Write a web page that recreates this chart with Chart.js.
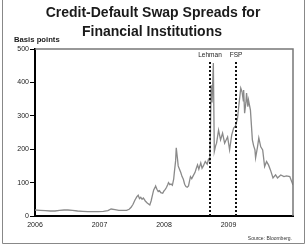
<!DOCTYPE html>
<html>
<head>
<meta charset="utf-8">
<script src="https://cdn.jsdelivr.net/npm/chart.js@4/dist/chart.umd.min.js"></script>
<style>
  html, body { margin: 0; padding: 0; background: #fff; }
  canvas { display: block; }
</style>
</head>
<body>
<canvas id="cdsChart" width="308" height="247"></canvas>
<script>
// dates as decimal years, spreads in basis points
const dates = [
  2006.00, 2006.08, 2006.16, 2006.24, 2006.31, 2006.38, 2006.45, 2006.51, 2006.58, 2006.66,
  2006.74, 2006.82, 2006.90, 2006.98, 2007.06, 2007.13, 2007.18, 2007.24, 2007.30, 2007.36,
  2007.42, 2007.46, 2007.49, 2007.52, 2007.55, 2007.58, 2007.60, 2007.62, 2007.64, 2007.66,
  2007.68, 2007.71, 2007.74, 2007.76, 2007.78, 2007.80, 2007.82, 2007.84, 2007.86, 2007.87,
  2007.89, 2007.91, 2007.93, 2007.95, 2007.98, 2008.00, 2008.02, 2008.04, 2008.06, 2008.07,
  2008.09, 2008.11, 2008.13, 2008.15, 2008.16, 2008.18, 2008.19, 2008.21, 2008.22, 2008.24,
  2008.26, 2008.28, 2008.30, 2008.32, 2008.34, 2008.36, 2008.38, 2008.41, 2008.43, 2008.46,
  2008.48, 2008.50, 2008.52, 2008.54, 2008.57, 2008.59, 2008.61, 2008.64, 2008.67, 2008.69,
  2008.71, 2008.72, 2008.73, 2008.745, 2008.765, 2008.78, 2008.80, 2008.815, 2008.846, 2008.877,
  2008.908, 2008.94, 2008.986, 2009.017, 2009.05, 2009.08, 2009.11, 2009.14, 2009.16, 2009.19,
  2009.21, 2009.23, 2009.235, 2009.25, 2009.27, 2009.28, 2009.30, 2009.31, 2009.34, 2009.37,
  2009.39, 2009.41, 2009.42, 2009.45, 2009.47, 2009.50, 2009.53, 2009.56, 2009.59, 2009.62,
  2009.65, 2009.69, 2009.73, 2009.76, 2009.81, 2009.86, 2009.90, 2009.95, 2009.99, 2010.00
];
const spreads = [
  18, 17, 16, 15, 15, 17, 18, 18, 17, 15,
  14, 13, 13, 13, 14, 16, 21, 19, 17, 17,
  17, 20, 26, 35, 48, 58, 62, 52, 56, 50,
  54, 45, 39, 36, 33, 45, 62, 78, 85, 90,
  80, 73, 76, 70, 68, 75, 80, 86, 95, 100,
  94, 96, 92, 110, 130, 165, 204, 170, 150, 140,
  130, 118, 110, 95, 88, 86, 90, 118, 112, 123,
  130, 142, 153, 140, 159, 143, 150, 163, 155, 170,
  165, 250, 392, 340, 458, 193, 210, 218, 257, 228,
  248, 218, 237, 198, 243, 263, 270, 293, 330, 383,
  372, 345, 377, 308, 340, 368, 327, 347, 317, 228,
  210, 198, 174, 207, 234, 207, 198, 148, 163, 153,
  138, 114, 123, 114, 123, 118, 120, 118, 98, 93
];

const yTicks = [0, 100, 200, 300, 400, 500];
const xTicks = [2006, 2007, 2008, 2009];
const eventNames = ['Lehman', 'FSP'];
const eventDates = [2008.71, 2009.11];

const titleLines = ['Credit-Default Swap Spreads for', 'Financial Institutions'];
const yUnit = 'Basis points';
const sourceNote = 'Source: Bloomberg.';

const FONT = '"Liberation Sans", Arial, sans-serif';

const extras = {
  id: 'extras',
  afterDraw(chart) {
    const { ctx, chartArea: a, scales } = chart;
    ctx.save();

    // gray top/right edge of plot
    ctx.strokeStyle = '#777';
    ctx.lineWidth = 1.5;
    ctx.beginPath();
    ctx.moveTo(a.left, a.top);
    ctx.lineTo(a.right, a.top);
    ctx.lineTo(a.right, a.bottom);
    ctx.stroke();

    // event lines
    ctx.strokeStyle = '#111';
    ctx.lineWidth = 2;
    ctx.setLineDash([2, 2]);
    ctx.font = '6.5px ' + FONT;
    ctx.fillStyle = '#222';
    ctx.textAlign = 'center';
    ctx.textBaseline = 'middle';
    eventDates.forEach((d, i) => {
      const x = Math.round(scales.x.getPixelForValue(d));
      ctx.beginPath();
      ctx.moveTo(x, a.top + 13);
      ctx.lineTo(x, a.bottom);
      ctx.stroke();
      ctx.fillText(eventNames[i], x, a.top + 6.5);
    });
    ctx.setLineDash([]);

    // title
    ctx.fillStyle = '#1a1a1a';
    ctx.font = 'bold 14px ' + FONT;
    ctx.fillText(titleLines[0], 153, 13);
    ctx.fillText(titleLines[1], 152, 32);

    // unit label
    ctx.textAlign = 'left';
    ctx.font = 'bold 7.7px ' + FONT;
    ctx.fillText(yUnit, 14, 40);

    // source
    ctx.font = '5px ' + FONT;
    ctx.fillStyle = '#333';
    ctx.textAlign = 'right';
    ctx.fillText(sourceNote, 292, 239);

    // outer frame
    ctx.strokeStyle = '#888';
    ctx.lineWidth = 1;
    ctx.beginPath();
    ctx.moveTo(2.5, 0);
    ctx.lineTo(2.5, 243.5);
    ctx.lineTo(304.5, 243.5);
    ctx.lineTo(304.5, 0);
    ctx.stroke();

    ctx.restore();
  }
};

new Chart(document.getElementById('cdsChart'), {
  type: 'line',
  data: {
    datasets: [{
      data: dates.map((d, i) => ({ x: d, y: spreads[i] })),
      borderColor: '#8a8a8a',
      borderWidth: 1.3,
      pointRadius: 0,
      tension: 0,
      fill: false
    }]
  },
  options: {
    responsive: false,
    animation: false,
    devicePixelRatio: 1,
    layout: { padding: { top: 49, left: 2, right: 15, bottom: 0 } },
    plugins: {
      legend: { display: false },
      tooltip: { enabled: false },
      title: { display: false }
    },
    scales: {
      x: {
        type: 'linear',
        min: 2006,
        max: 2010,
        afterBuildTicks: s => { s.ticks = xTicks.map(v => ({ value: v })); },
        afterFit: s => { s.height = 31; },
        grid: { display: false, drawTicks: false },
        border: { color: '#000', width: 2 },
        ticks: {
          padding: 5,
          color: '#222',
          font: { family: FONT, size: 7 },
          maxRotation: 0,
          callback: v => String(v)
        }
      },
      y: {
        min: 0,
        max: 500,
        afterBuildTicks: s => { s.ticks = yTicks.map(v => ({ value: v })); },
        afterFit: s => { s.width = 33; },
        grid: { drawOnChartArea: false, drawTicks: true, tickLength: 5, color: '#000', lineWidth: 1 },
        border: { color: '#000', width: 2 },
        ticks: {
          padding: 1,
          color: '#222',
          font: { family: FONT, size: 7 }
        }
      }
    }
  },
  plugins: [extras]
});
</script>
</body>
</html>
